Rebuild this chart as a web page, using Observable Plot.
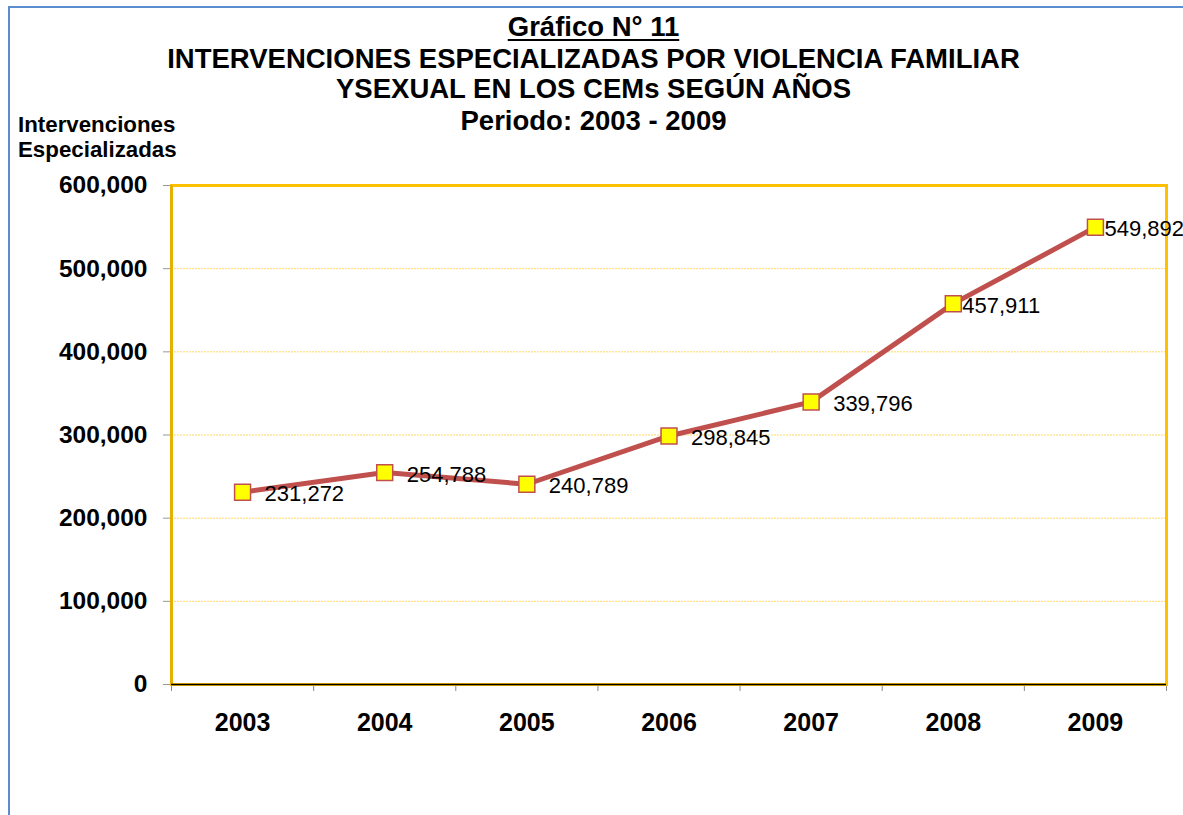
<!DOCTYPE html>
<html>
<head>
<meta charset="utf-8">
<script src="https://cdn.jsdelivr.net/npm/d3@7"></script>
<script src="https://cdn.jsdelivr.net/npm/@observablehq/plot@0.6"></script>
<style>
  html, body { margin: 0; padding: 0; background: #fff; }
  #wrap { position: relative; width: 1183px; height: 815px; overflow: hidden; font-family: "Liberation Sans", Arial, sans-serif; }
  #bt { position: absolute; left: 8px; top: 6px; width: 1175px; height: 2px; background: #5B8BD0; }
  #bl { position: absolute; left: 8px; top: 6px; width: 2px; height: 809px; background: #5B8BD0; }
  .t { position: absolute; left: 0; width: 1187px; text-align: center; font-weight: bold; font-size: 27.5px; color: #000; line-height: 30px; white-space: nowrap; }
  #ylab { position: absolute; left: 18px; top: 112px; font-weight: bold; font-size: 22.3px; line-height: 25px; color: #000; }
  #chart { position: absolute; left: 0; top: 0; }
</style>
</head>
<body>
<div id="wrap">
  <div id="chart"></div>
  <div id="bt"></div>
  <div id="bl"></div>
  <div class="t" style="top:12px;"><span style="text-decoration:underline; text-underline-offset:3px;">Gráfico N° 11</span></div>
  <div class="t" style="top:44px;">INTERVENCIONES ESPECIALIZADAS POR VIOLENCIA FAMILIAR</div>
  <div class="t" style="top:74px;">YSEXUAL EN LOS CEMs SEGÚN AÑOS</div>
  <div class="t" style="top:106px;">Periodo: 2003 - 2009</div>
  <div id="ylab">Intervenciones<br>Especializadas</div>
</div>
<script>
const years = [2003, 2004, 2005, 2006, 2007, 2008, 2009];
const values = [231272, 254788, 240789, 298845, 339796, 457911, 549892];
const yTicks = [0, 100000, 200000, 300000, 400000, 500000, 600000];

const data = years.map((year, i) => ({year, value: values[i], i}));
const boundaries = years.map(y => y - 0.5).concat([years[years.length - 1] + 0.5]);
const fmt = d3.format(",");

const chart = Plot.plot({
  width: 1183,
  height: 815,
  marginLeft: 171,
  marginRight: 17,
  marginTop: 185,
  marginBottom: 131,
  style: {fontFamily: "Liberation Sans, Arial, sans-serif", background: "transparent", overflow: "visible"},
  x: {domain: [years[0] - 0.5, years[years.length - 1] + 0.5]},
  y: {domain: [0, 600000]},
  marks: [
    Plot.gridY(yTicks.filter(d => d > 0 && d < 600000), {stroke: "#FFD966", strokeOpacity: 1, strokeWidth: 1, strokeDasharray: "2,1"}),
    Plot.axisY(yTicks, {tickFormat: fmt, tickSize: 8, tickPadding: 16, stroke: "#999", fontSize: 24.5, fontWeight: "bold", fill: "#000", label: null}),
    Plot.axisX(boundaries, {tickFormat: () => "", tickSize: 7, stroke: "#888", label: null}),
    Plot.axisX(years, {tickFormat: d => String(d), tickSize: 0, tickPadding: 29, fontSize: 25, fontWeight: "bold", fill: "#000", label: null}),
    Plot.frame({stroke: "#FFC000", strokeWidth: 3}),
    Plot.ruleX([years[0] - 0.5], {stroke: "#E6B000", strokeWidth: 3}),
    Plot.ruleY([0], {stroke: "#000", strokeWidth: 1.5}),
    Plot.line(data, {x: "year", y: "value", stroke: "#C0504D", strokeWidth: 5}),
    Plot.dot(data, {x: "year", y: "value", symbol: "square", r: 9, fill: "#FFFF00", stroke: "#C0504D", strokeWidth: 1.5}),
    Plot.text(data.filter(d => d.i < 5), {x: "year", y: "value", text: d => fmt(d.value), textAnchor: "start", dx: 22, dy: 2, fontSize: 22, fill: "#000"}),
    Plot.text(data.filter(d => d.i >= 5), {x: "year", y: "value", text: d => fmt(d.value), textAnchor: "start", dx: 9, dy: 2, fontSize: 22, fill: "#000"})
  ]
});
document.getElementById("chart").appendChild(chart);
</script>
</body>
</html>
